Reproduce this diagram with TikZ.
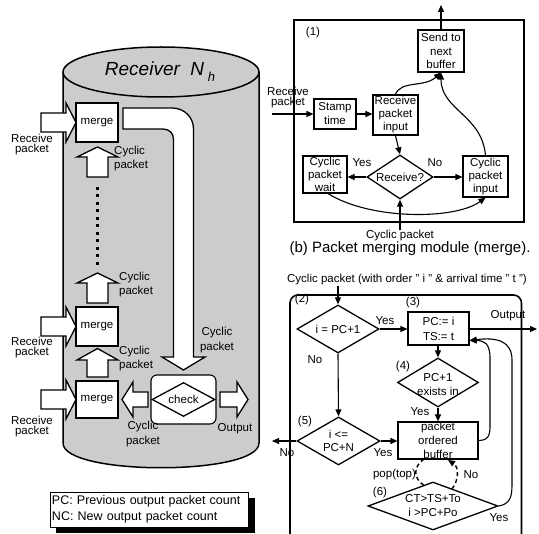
\documentclass[tikz,border=0pt]{standalone}
\usepackage{fontspec}
\setmainfont{Liberation Sans}
\usetikzlibrary{arrows.meta,shapes.geometric,calc}
\newcommand\myfs[2]{\fontsize{#1}{#2}\selectfont}
\definecolor{cylgray}{RGB}{204,204,204}
\tikzset{
  every node/.append style={font=\myfs{11.5}{13}},
  box/.style={draw, line width=1.1pt, fill=white, inner sep=0pt, align=center},
  dia/.style={draw, diamond, line width=1.3pt, fill=white, inner sep=0pt},
  arr/.style={line width=1.1pt, -{Triangle[length=7pt,width=6pt]}},
  txt/.style={inner sep=0pt, align=center},
  blk/.style={draw, line width=1.3pt, fill=white, line join=miter},
}
\begin{document}
\begin{tikzpicture}[x=1pt,y=-1pt]
\useasboundingbox (0,0) rectangle (539,534);
\fill[white] (0,0) rectangle (539,534);

% ---------------- cylinder ----------------
\fill[cylgray] (63,72) -- (63,443) .. controls (63,476) and (259,476) .. (259,443) -- (259,72) -- cycle;
\draw[line width=1.5pt] (63,72) -- (63,443) .. controls (63,476) and (259,476) .. (259,443) -- (259,72);
\draw[line width=1.5pt, fill=cylgray] (161,72) ellipse [x radius=98, y radius=25];
\node[txt, font=\myfs{19}{21}\itshape] (title) at (160,72) {Receiver\ \ N\raisebox{-6pt}{\myfs{13}{13}\ h}};

% merge boxes
\node[box, minimum width=42pt, minimum height=39pt] (m1) at (97,122.5) {merge};
\node[box, minimum width=42pt, minimum height=39pt] (m2) at (97,326.5) {merge};
\node[box, minimum width=42pt, minimum height=37pt] (m3) at (97,399.5) {merge};

% receive block arrows
\draw[blk] (41,113) -- (66,113) -- (66,103) -- (76,122.5) -- (66,142) -- (66,132) -- (41,132) -- cycle;
\draw[blk] (41,317) -- (66,317) -- (66,307) -- (76,326.5) -- (66,346) -- (66,336) -- (41,336) -- cycle;
\draw[blk] (41,390) -- (66,390) -- (66,380) -- (76,399.5) -- (66,419) -- (66,409) -- (41,409) -- cycle;
\node[txt, font=\myfs{11.5}{10}] (rp1) at (32,144.5) {Receive\\packet};
\node[txt, font=\myfs{11.5}{10}] (rp2) at (32,348) {Receive\\packet};
\node[txt, font=\myfs{11.5}{10}] (rp3) at (32,427) {Receive\\packet};

% cyclic up arrows
\draw[blk] (87,177) -- (87,157) -- (77,157) -- (97.5,147) -- (118,157) -- (108,157) -- (108,177) -- cycle;
\draw[blk] (87,303) -- (87,283) -- (77,283) -- (97.5,273) -- (118,283) -- (108,283) -- (108,303) -- cycle;
\draw[blk] (87,377) -- (87,360) -- (77,360) -- (97.5,348.5) -- (118,360) -- (108,360) -- (108,377) -- cycle;
\node[txt, anchor=west, font=\myfs{11.5}{14}, align=left] (cp1) at (114,159) {Cyclic\\packet};
\node[txt, anchor=west, font=\myfs{11.5}{14}, align=left] (cp2) at (119,285) {Cyclic\\packet};
\node[txt, anchor=west, font=\myfs{11.5}{14}, align=left] (cp3) at (119,359) {Cyclic\\packet};
\draw[line width=2.5pt, dash pattern=on 3pt off 4.5pt] (97.5,187) -- (97.5,266);

% big U arrow
\draw[blk] (123,108) -- (172,108) .. controls (184,108) and (193.5,117) .. (193.5,129) -- (193.5,357) -- (205,357) -- (183.5,370) -- (162,357) -- (173.5,357) -- (173.5,139) .. controls (173.5,133) and (169,129) .. (163,129) -- (123,129) -- cycle;
\node[txt, font=\myfs{11.5}{15}] (cpbig) at (217,340) {Cyclic\\packet};

% check
\node[draw, rounded corners=6pt, line width=1.1pt, fill=white, minimum width=65pt, minimum height=49pt] (chk) at (183.5,399.5) {};
\node[dia, minimum width=63pt, minimum height=34pt, label=center:check] (chkd) at (183.5,399.5) {};
\draw[blk] (148,392) -- (133,392) -- (133,382) -- (122,399.5) -- (133,417) -- (133,407) -- (148,407) -- cycle;
\draw[blk] (220,392) -- (237,392) -- (237,382) -- (248,399.5) -- (237,417) -- (237,407) -- (220,407) -- cycle;
\node[txt, font=\myfs{11.5}{15}] (cpl) at (143,434) {Cyclic\\packet};
\node[txt] (outl) at (235,429) {Output};

% legend
\fill[black] (56,498) rectangle (255,533);
\node[draw, fill=white, line width=0.9pt, text width=194pt, minimum height=35pt, inner sep=2pt, align=left, font=\myfs{12.5}{16.5}] (legend) at (149,509.5) {PC: Previous output packet count\\NC: New output packet count};

% ---------------- upper flowchart ----------------
\node[draw, line width=1.6pt, minimum width=230pt, minimum height=202pt, inner sep=0pt] (frameA) at (409,121) {};
\node[txt] (l1) at (313,33) {(1)};
\node[box, minimum width=46pt, minimum height=42pt, font=\myfs{11.5}{13.5}] (send) at (441,51) {Send to\\next\\buffer};
\node[box, minimum width=42pt, minimum height=30pt, font=\myfs{11.5}{14}] (stamp) at (335,114) {Stamp\\time};
\node[box, minimum width=45pt, minimum height=40pt, font=\myfs{11.5}{13}] (rpi) at (395.5,115) {Receive\\packet\\input};
\node[dia, minimum width=66pt, minimum height=44pt, label=center:Receive?] (rcv) at (400,177) {};
\node[box, minimum width=44pt, minimum height=37pt, font=\myfs{11.5}{13}] (wait) at (325,174.5) {Cyclic\\packet\\wait};
\node[box, minimum width=45pt, minimum height=41pt, font=\myfs{11.5}{13}] (cin) at (485.5,176.5) {Cyclic\\packet\\input};
\node[txt, font=\myfs{11.5}{10}] (rpA) at (288,98) {Receive\\packet};
\coordinate (rin) at (272,114);
\coordinate (sendout) at (441,5);
\draw[arr] (rin) -- (stamp.west);
\draw[arr] (stamp.east) -- (stamp.east -| rpi.west);
\draw[arr] (rpi.south) -- (rcv.north);
\draw[arr] (rcv.west) -- (rcv.west -| wait.east);
\draw[arr] (rcv.east) -- (rcv.east -| cin.west);
\node[txt] (yesA) at (362,163) {Yes};
\node[txt] (noA) at (435,163) {No};
\draw[arr] ([xshift=3pt]wait.south) .. controls (370,220) and (455,220) .. (cin.south);
\draw[arr] (rpi.north) .. controls (401,80) and (424,88) .. (send.south);
\draw[arr] (cin.north) .. controls (482,115) and (441,110) .. (send.south);
\draw[arr] (send.north) -- (sendout);
\node[txt] (cpb) at (400,236) {Cyclic packet};
\draw[arr] (cpb.north) -- (rcv.south);
\node[txt, font=\myfs{15}{17}] (capb) at (410,249) {(b) Packet merging module (merge).};

% ---------------- lower flowchart ----------------
\draw[line width=1.6pt, rounded corners=8pt] (290,534) -- (290,295) -- (521.5,295) -- (521.5,534);
\node[txt] (cph) at (407,280) {Cyclic packet (with order " i " \& arrival time " t ")};
\node[dia, minimum width=82pt, minimum height=48pt, label=center:{i = PC+1}] (d2) at (338,329) {};
\node[box, minimum width=61pt, minimum height=33pt, font=\myfs{11.5}{15}] (b3) at (438.5,328.5) {PC:= i\\TS:= t};
\node[dia, minimum width=81pt, minimum height=49pt, label={[txt, font=\myfs{11.5}{13.5}, yshift=-2pt]center:{PC+1\\exists in}}] (d4) at (438,382.5) {};
\node[box, minimum width=80pt, minimum height=37pt, font=\myfs{11.5}{14}] (buf) at (438,440.5) {packet\\ordered\\buffer};
\node[dia, minimum width=83pt, minimum height=48pt, label={[txt, font=\myfs{11.5}{13}]center:{i <=\\PC+N}}] (d5) at (338.5,441) {};
\node[dia, minimum width=130pt, minimum height=48pt, label={[txt, font=\myfs{11.5}{14}]center:{CT>TS+To\\i >PC+Po}}] (d6) at (433,506) {};
\coordinate (outpt) at (537,329);
\coordinate (noout) at (272,441);

\node[txt] (l2) at (302,300) {(2)};
\node[txt] (l3) at (413,303) {(3)};
\node[txt] (l4) at (403,367) {(4)};
\node[txt] (l5) at (305,422) {(5)};
\node[txt] (l6) at (380,493) {(6)};

\draw[arr] (cph.south -| d2.north) -- (d2.north);
\draw[arr] (d2.east) -- (d2.east -| b3.west);
\draw[arr] (b3.east |- outpt) -- (outpt);
\draw[arr] (d2.south) -- (d5.north);
\draw[arr] (b3.south -| d4.north) -- (d4.north);
\draw[arr] (d4.south) -- (buf.north);
\draw[arr] (d5.east) -- (d5.east -| buf.west);
\draw[arr] (d5.west) -- (noout);
\draw[arr] (buf.east) .. controls (491,440.5) and (490,432) .. (490,420) -- (490,358) .. controls (490,343) and (484,340.5) .. ([yshift=-12pt]b3.east);
\draw[arr] (d6.east) .. controls (510,504) and (512,497) .. (512,485) -- (512,360) .. controls (512,341) and (497,337) .. ([yshift=-12pt]b3.east);
\draw[line width=1.4pt, dash pattern=on 4pt off 3pt] (424,459) .. controls (413,467) and (413,478) .. (424,485.5);
\draw[line width=1.4pt, dash pattern=on 4pt off 3pt, -{Triangle[length=7pt,width=6pt]}] (452,489) .. controls (459,480) and (459,467) .. (448,460);

\node[txt] (yes2) at (385,321) {Yes};
\node[txt] (no2) at (315,360) {No};
\node[txt] (outtxt) at (508,316) {Output};
\node[txt] (yes4) at (420,412) {Yes};
\node[txt] (yes5) at (383,453) {Yes};
\node[txt] (no5) at (287,453) {No};
\node[txt] (pop) at (394.5,475) {pop(top)};
\node[txt] (no6) at (471,475) {No};
\node[txt] (yes6) at (499,518) {Yes};
\end{tikzpicture}
\end{document}
